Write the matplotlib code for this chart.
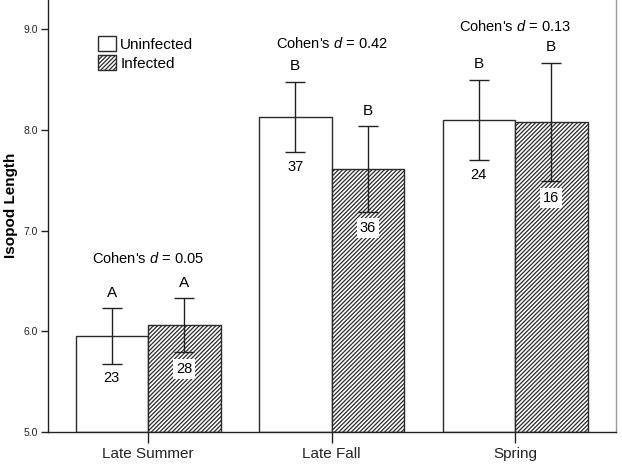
import matplotlib
matplotlib.use('Agg')
import matplotlib.pyplot as plt
from matplotlib.patches import Patch
import numpy as np

# Data
seasons = ['Late Summer', 'Late Fall', 'Spring']
uninf_mean = [5.95, 8.13, 8.10]
uninf_hi = [6.23, 8.48, 8.50]
uninf_lo = [5.68, 7.78, 7.70]
inf_mean = [6.06, 7.61, 8.08]
inf_hi = [6.33, 8.04, 8.67]
inf_lo = [5.79, 7.19, 7.49]
n_uninf = [23, 37, 24]
n_inf = [28, 36, 16]
letters_uninf = ['A', 'B', 'B']
letters_inf = ['A', 'B', 'B']
cohen_d = [0.05, 0.42, 0.13]
cohen_y = [6.72, 8.86, 9.03]

plt.rcParams['font.family'] = ['Liberation Sans', 'DejaVu Sans']
plt.rcParams['mathtext.fontset'] = 'custom'
plt.rcParams['mathtext.it'] = 'Liberation Sans:italic'
plt.rcParams['mathtext.rm'] = 'Liberation Sans'
plt.rcParams['hatch.linewidth'] = 0.9
plt.rcParams['hatch.color'] = '#3a3a3a'

fig = plt.figure(figsize=(6.22, 4.65), dpi=100)
ax = fig.add_axes([48/622, 33/465, 568/622, 453/465])

x = np.arange(len(seasons))
w = 0.395
xu = x - w/2
xi = x + w/2

ax.bar(xu, np.array(uninf_mean) - 5, w, bottom=5, color='white',
       edgecolor='#2a2a2a', linewidth=1.0)
ax.bar(xi, np.array(inf_mean) - 5, w, bottom=5, color='white',
       edgecolor='#2a2a2a', linewidth=1.0, hatch='////////')

err_u = [np.array(uninf_mean) - np.array(uninf_lo), np.array(uninf_hi) - np.array(uninf_mean)]
err_i = [np.array(inf_mean) - np.array(inf_lo), np.array(inf_hi) - np.array(inf_mean)]
ax.errorbar(xu, uninf_mean, yerr=err_u, fmt='none', ecolor='#222222',
            elinewidth=1.0, capsize=7, capthick=1.0)
ax.errorbar(xi, inf_mean, yerr=err_i, fmt='none', ecolor='#222222',
            elinewidth=1.0, capsize=7, capthick=1.0)

for i in range(len(seasons)):
    ax.annotate(letters_uninf[i], (xu[i], uninf_hi[i]), xytext=(0, 11),
                textcoords='offset points', ha='center', va='center', fontsize=11)
    ax.annotate(letters_inf[i], (xi[i], inf_hi[i]), xytext=(0, 11),
                textcoords='offset points', ha='center', va='center', fontsize=11)
    ax.annotate(str(n_uninf[i]), (xu[i], uninf_lo[i]), xytext=(0, -10.5),
                textcoords='offset points', ha='center', va='center', fontsize=10.5)
    ax.annotate(str(n_inf[i]), (xi[i], inf_lo[i]), xytext=(0, -12),
                textcoords='offset points', ha='center', va='center', fontsize=10.5,
                bbox=dict(boxstyle='square,pad=0.2', facecolor='white', edgecolor='none'))
    ax.text(x[i], cohen_y[i], "Cohen's $\\it{d}$ = %.2f" % cohen_d[i],
            ha='center', va='center', fontsize=10.5)

ax.set_xlim(-0.545, 2.55)
ax.set_ylim(5.0, 9.5)
ax.set_yticks([5.0, 6.0, 7.0, 8.0, 9.0])
ax.set_yticklabels(['5.0', '6.0', '7.0', '8.0', '9.0'], fontsize=7.5)
ax.set_xticks(x)
ax.set_xticklabels(seasons, fontsize=11)
ax.tick_params(axis='y', length=5, width=1, pad=2, colors='#222222')
ax.tick_params(axis='x', length=8, width=1, pad=3, colors='#222222')

ax.spines['top'].set_visible(False)
ax.spines['left'].set_color('#222222')
ax.spines['bottom'].set_color('#222222')
ax.spines['right'].set_color('#999999')
for s in ['left', 'bottom', 'right']:
    ax.spines[s].set_linewidth(1.0)

ax.set_ylabel('Isopod Length', fontsize=11, fontweight='bold', labelpad=4)

handles = [Patch(facecolor='white', edgecolor='#2a2a2a', label='Uninfected'),
           Patch(facecolor='white', edgecolor='#2a2a2a', hatch='////////', label='Infected')]
ax.legend(handles=handles, loc='upper left', bbox_to_anchor=(0.088, 0.874),
          frameon=False, fontsize=11, handlelength=1.15, handleheight=1.15,
          handletextpad=0.3, labelspacing=0.22, borderpad=0, borderaxespad=0)

fig.savefig('out.png', dpi=100)
